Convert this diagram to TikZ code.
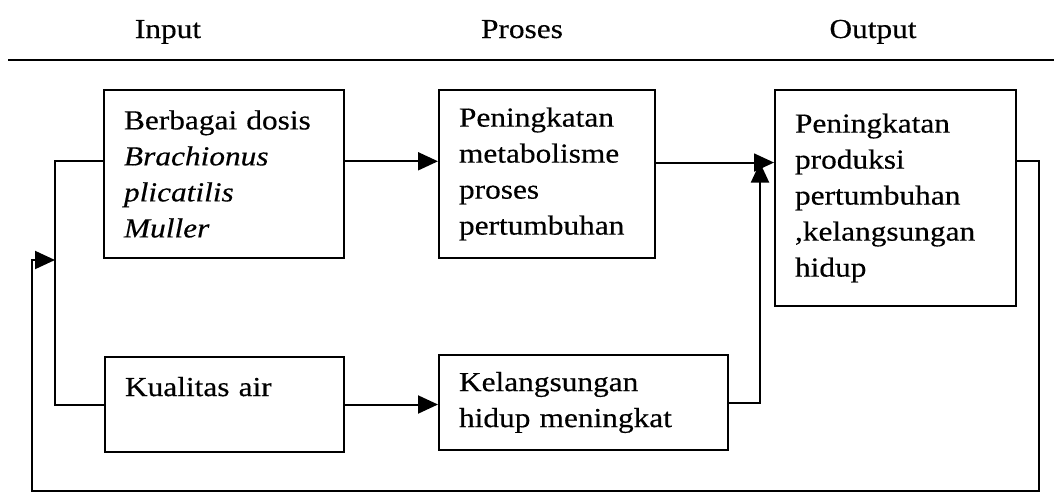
\documentclass[tikz,border=0pt]{standalone}
\usepackage{fontspec}
\setmainfont{Liberation Serif}[FakeStretch=1.14, FakeBold=0.4]
\usepackage{tikz}
\usetikzlibrary{arrows.meta, calc}

\begin{document}
\begin{tikzpicture}[
        x=0.5pt, y=-0.5pt,
        kotak/.style={draw, rectangle, anchor=north west, align=left, inner xsep=10pt, line width=1pt, font=\fontsize{13.75}{18}\selectfont},
        judul/.style={anchor=base, font=\fontsize{13.75}{18}\selectfont},
        panah/.style={-{Triangle[length=10pt, width=9pt]}, line width=1pt},
        garis/.style={line width=1pt}
    ]
        \useasboundingbox (0,0) rectangle (1054,493);

        \node[judul] (input) at (168,38) {Input};
        \node[judul] (proses) at (522,38) {Proses};
        \node[judul] (output) at (873,38) {Output};
        \draw[garis, line width=1.3pt] (8,60) -- (1054,60);

        \node[kotak, minimum width=120pt, minimum height=84pt, text width=100pt] (dosis) at (103,89) {Berbagai dosis\\\textit{Brachionus}\\\textit{plicatilis}\\\textit{Muller}};
        \node[kotak, minimum width=108pt, minimum height=84pt, text width=88pt] (metab) at (438,89) {Peningkatan\\metabolisme\\proses\\pertumbuhan};
        \node[kotak, minimum width=120.5pt, minimum height=108pt, text width=100.5pt] (hasil) at (774,89) {Peningkatan\\produksi\\pertumbuhan\\,kelangsungan\\hidup};
        \node[kotak, minimum width=119.5pt, minimum height=47.5pt, text width=99.5pt] (kualitas) at (104,356) {Kualitas air\\\mbox{}};
        \node[kotak, minimum width=144.5pt, minimum height=47.5pt, text width=124.5pt] (hidup) at (438,354) {Kelangsungan\\hidup meningkat};

        \coordinate (kiri) at (55,260);

        \draw[panah] (dosis.6) -- (dosis.6 -| metab.west);
        \draw[panah] (metab.6) -- (metab.6 -| hasil.west);
        \draw[panah] (kualitas.east) -- (kualitas.east -| hidup.west);
        \draw[panah] (hidup.east) -| ($(metab.6 -| hasil.west)+(-14,0)$);
        \draw[garis] (dosis.174) -- ++(-48,0) |- (kualitas.west);
        \draw[panah] (hasil.17) -| (1039,491) -| (32,260) -- (kiri);
    \end{tikzpicture}
\end{document}
